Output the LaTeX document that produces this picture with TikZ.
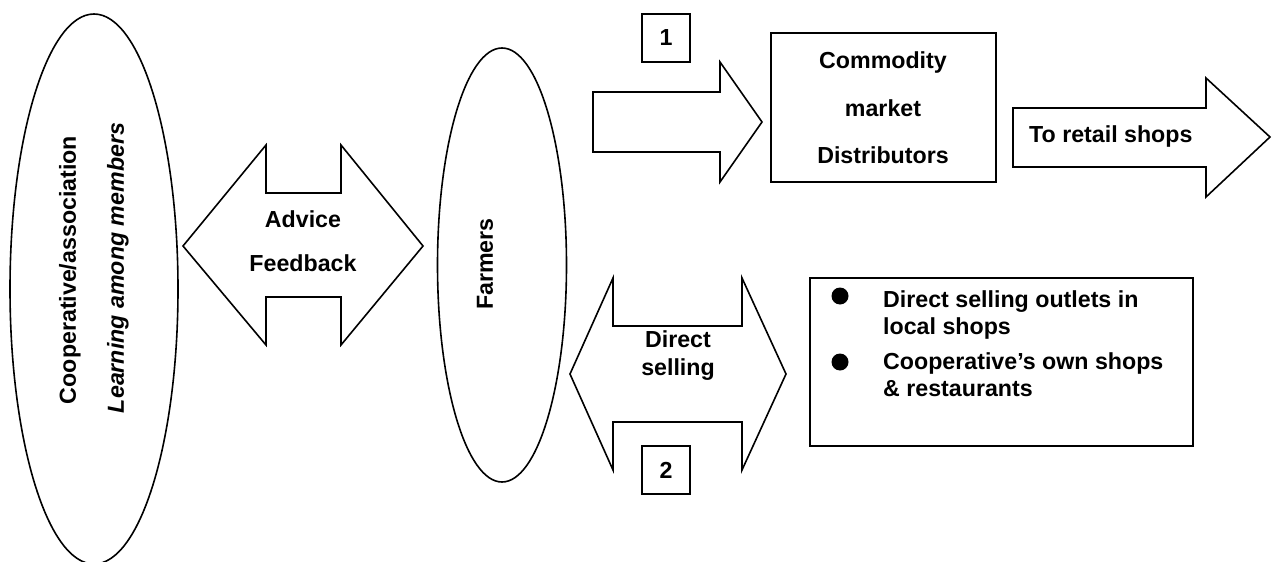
\documentclass[tikz,border=0pt]{standalone}
\usepackage{fontspec}
\setmainfont{Liberation Sans}
\usetikzlibrary{shapes.geometric}
\tikzset{
  shp/.style={draw=black, line width=1.6pt, line join=miter},
  txt/.style={font=\fontsize{23.2}{27}\selectfont\bfseries, inner sep=0pt},
  oval/.style={shp, ellipse, inner sep=0pt},
  dot/.style={circle, fill=black, inner sep=0pt, minimum size=17pt}
}
\begin{document}
\begin{tikzpicture}[x=1pt,y=-1pt]
\useasboundingbox (0,0) rectangle (1286,562);
% left ellipse
\node[oval, minimum width=168pt, minimum height=550pt] (coop) at (94,289) {};
\node[txt, rotate=90] (coopt) at (70,270) {Cooperative/association};
\node[txt, rotate=90] (learn) at (118,268) {\itshape Learning among members};
% advice double arrow
\draw[shp] (183,246) -- (266,145) -- (266,193) -- (341,193) -- (341,145) -- (423,246)
  -- (341,345) -- (341,297) -- (266,297) -- (266,345) -- cycle;
\node[txt, align=center, font=\fontsize{23.2}{44}\selectfont\bfseries] (adv) at (303,241) {Advice\\Feedback};
% farmers ellipse
\node[oval, minimum width=129pt, minimum height=434pt] (farm) at (502,265) {};
\node[txt, rotate=90] (farmt) at (485,264) {Farmers};
% arrow 1
\draw[shp] (593,92) -- (720,92) -- (720,62) -- (762,122) -- (720,182) -- (720,152) -- (593,152) -- cycle;
\node[shp, minimum width=48pt, minimum height=48pt, inner sep=0pt, txt] (one) at (666,38) {1};
% commodity box
\node[shp, minimum width=225pt, minimum height=149pt, inner sep=0pt] (comm) at (883.5,107.5) {};
\node[txt, align=center, font=\fontsize{23.2}{47.5}\selectfont\bfseries] (commt) at (883,108) {Commodity\\market\\Distributors};
% retail arrow
\draw[shp] (1013,108) -- (1206,108) -- (1206,78) -- (1270,137) -- (1206,197) -- (1206,167) -- (1013,167) -- cycle;
\node[txt, anchor=west] (retail) at (1029,137) {To retail shops};
% direct selling double arrow
\draw[shp] (570,374) -- (613,278) -- (613,326) -- (742,326) -- (742,278) -- (786,374)
  -- (742,470) -- (742,422) -- (613,422) -- (613,470) -- cycle;
\node[txt, align=center, font=\fontsize{23.2}{28}\selectfont\bfseries] (ds) at (678,356) {Direct\\selling};
\node[shp, minimum width=48pt, minimum height=48pt, inner sep=0pt, txt] (two) at (666,470) {2};
% bullet box
\node[shp, minimum width=383pt, minimum height=168pt, inner sep=0pt] (bbox) at (1001.5,362) {};
\node[dot] (b1) at (840,296) {};
\node[dot] (b2) at (840,362) {};
\node[txt, anchor=west, align=left] (l1) at (883,315) {Direct selling outlets in\\local shops};
\node[txt, anchor=west, align=left] (l2) at (883,375) {Cooperative’s own shops\\\& restaurants};
\end{tikzpicture}
\end{document}
